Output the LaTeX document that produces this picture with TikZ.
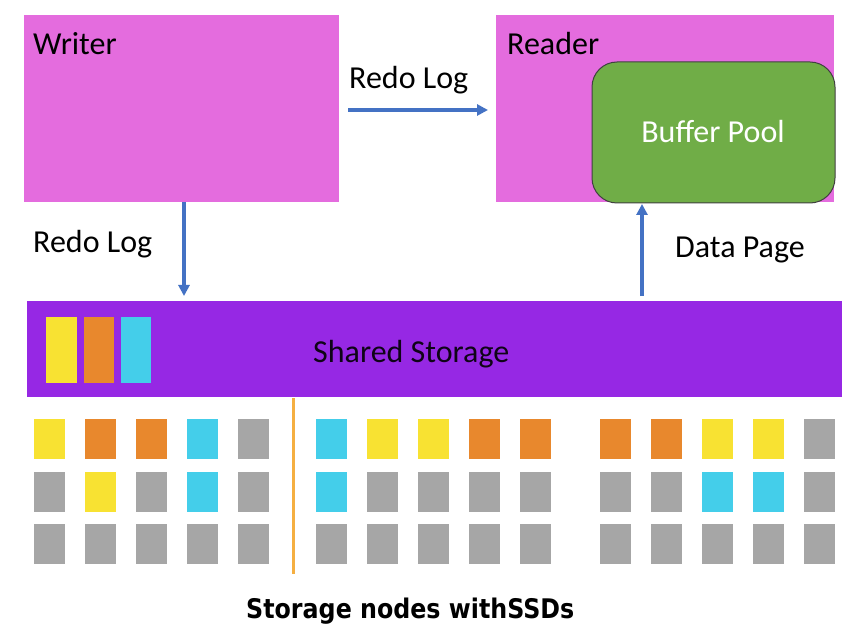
\documentclass[tikz,border=0pt]{standalone}
\usepackage{fontspec}
\setmainfont{Carlito}
\newfontfamily\bottomfont[FakeStretch=0.88]{DejaVu Sans}
\usetikzlibrary{arrows.meta}
\definecolor{cpink}{RGB}{228,108,222}
\definecolor{cgreen}{RGB}{112,173,71}
\definecolor{cpurple}{RGB}{150,40,228}
\definecolor{cblue}{RGB}{68,114,196}
\definecolor{cy}{RGB}{248,226,50}
\definecolor{co}{RGB}{232,136,45}
\definecolor{cc}{RGB}{68,206,234}
\definecolor{cg}{RGB}{166,166,166}
\definecolor{cline}{RGB}{245,175,65}
\begin{document}
\begin{tikzpicture}[x=1pt,y=-1pt,
  box/.style={draw=none,anchor=north west,inner sep=0,outer sep=0},
  lbl/.style={inner sep=0,anchor=base west,font=\fontsize{32}{38}\selectfont},
  arr/.style={draw=cblue,line width=3.2pt,-{Triangle[length=11pt,width=11pt]}},
  blk/.style={box,minimum width=30.5,minimum height=40}
]
\useasboundingbox (0,0) rectangle (859,636);
\fill[white] (0,0) rectangle (859,636);
% top boxes
\node[box,fill=cpink,minimum width=315,minimum height=187] (writer) at (24,15) {};
\node[box,fill=cpink,minimum width=338,minimum height=187] (reader) at (496,15) {};
\node[box,fill=cgreen,draw=black!75,line width=1pt,rounded corners=25pt,minimum width=243,minimum height=141] (bp) at (592,62) {};
\node[lbl] (wtxt) at (33,55) {Writer};
\node[lbl] (rtxt) at (507,55) {Reader};
\node[lbl,anchor=base,text=white] (bptxt) at (713,143) {Buffer Pool};
% shared storage
\node[box,fill=cpurple,minimum width=815,minimum height=96] (storage) at (27,301) {};
\node[box,fill=cy,minimum width=31,minimum height=66] (sy) at (46,317) {};
\node[box,fill=co,minimum width=30,minimum height=66] (so) at (84,317) {};
\node[box,fill=cc,minimum width=30,minimum height=66] (sc) at (121,317) {};
\node[lbl,text=black!90!cpurple] (sstxt) at (313,362) {Shared Storage};
% arrows and labels
\coordinate (rls) at (348,110);
\coordinate (rle) at (488,110);
\draw[arr] (rls) -- (rle);
\node[lbl] (rltop) at (349,89) {Redo Log};
\coordinate (wdown) at (184,0);
\draw[arr,shorten >=5pt] (writer.south -| wdown) -- (storage.north -| wdown);
\node[lbl] (rlleft) at (33,253) {Redo Log};
\coordinate (dpx) at (642,0);
\draw[arr,shorten <=5pt] (storage.north -| dpx) -- ([yshift=-1pt]bp.south -| dpx);
\node[lbl] (dptxt) at (675,258) {Data Page};
% storage nodes
\foreach \gx/\ra/\rb [count=\g] in {34/{cy,co,co,cc,cg}/{cg,cy,cg,cc,cg},
                                     316/{cc,cy,cy,co,co}/{cc,cg,cg,cg,cg},
                                     600/{co,co,cy,cy,cg}/{cg,cg,cc,cc,cg}}{
  \foreach \c [count=\i from 0] in \ra {
    \node[blk,fill=\c] (n\g-1-\i) at (\gx+51*\i,419) {};
  }
  \foreach \c [count=\i from 0] in \rb {
    \node[blk,fill=\c] (n\g-2-\i) at (\gx+51*\i,472) {};
  }
  \foreach \i in {0,...,4} {
    \node[blk,fill=cg] (n\g-3-\i) at (\gx+51*\i,524) {};
  }
}
\coordinate (lt) at (293,398);
\coordinate (lb) at (293,574);
\draw[cline,line width=3pt] (lt) -- (lb);
\node[inner sep=0,anchor=base west,font=\bottomfont\bfseries\fontsize{27}{32}\selectfont] (bottom) at (246,618) {Storage nodes withSSDs};
\end{tikzpicture}
\end{document}
